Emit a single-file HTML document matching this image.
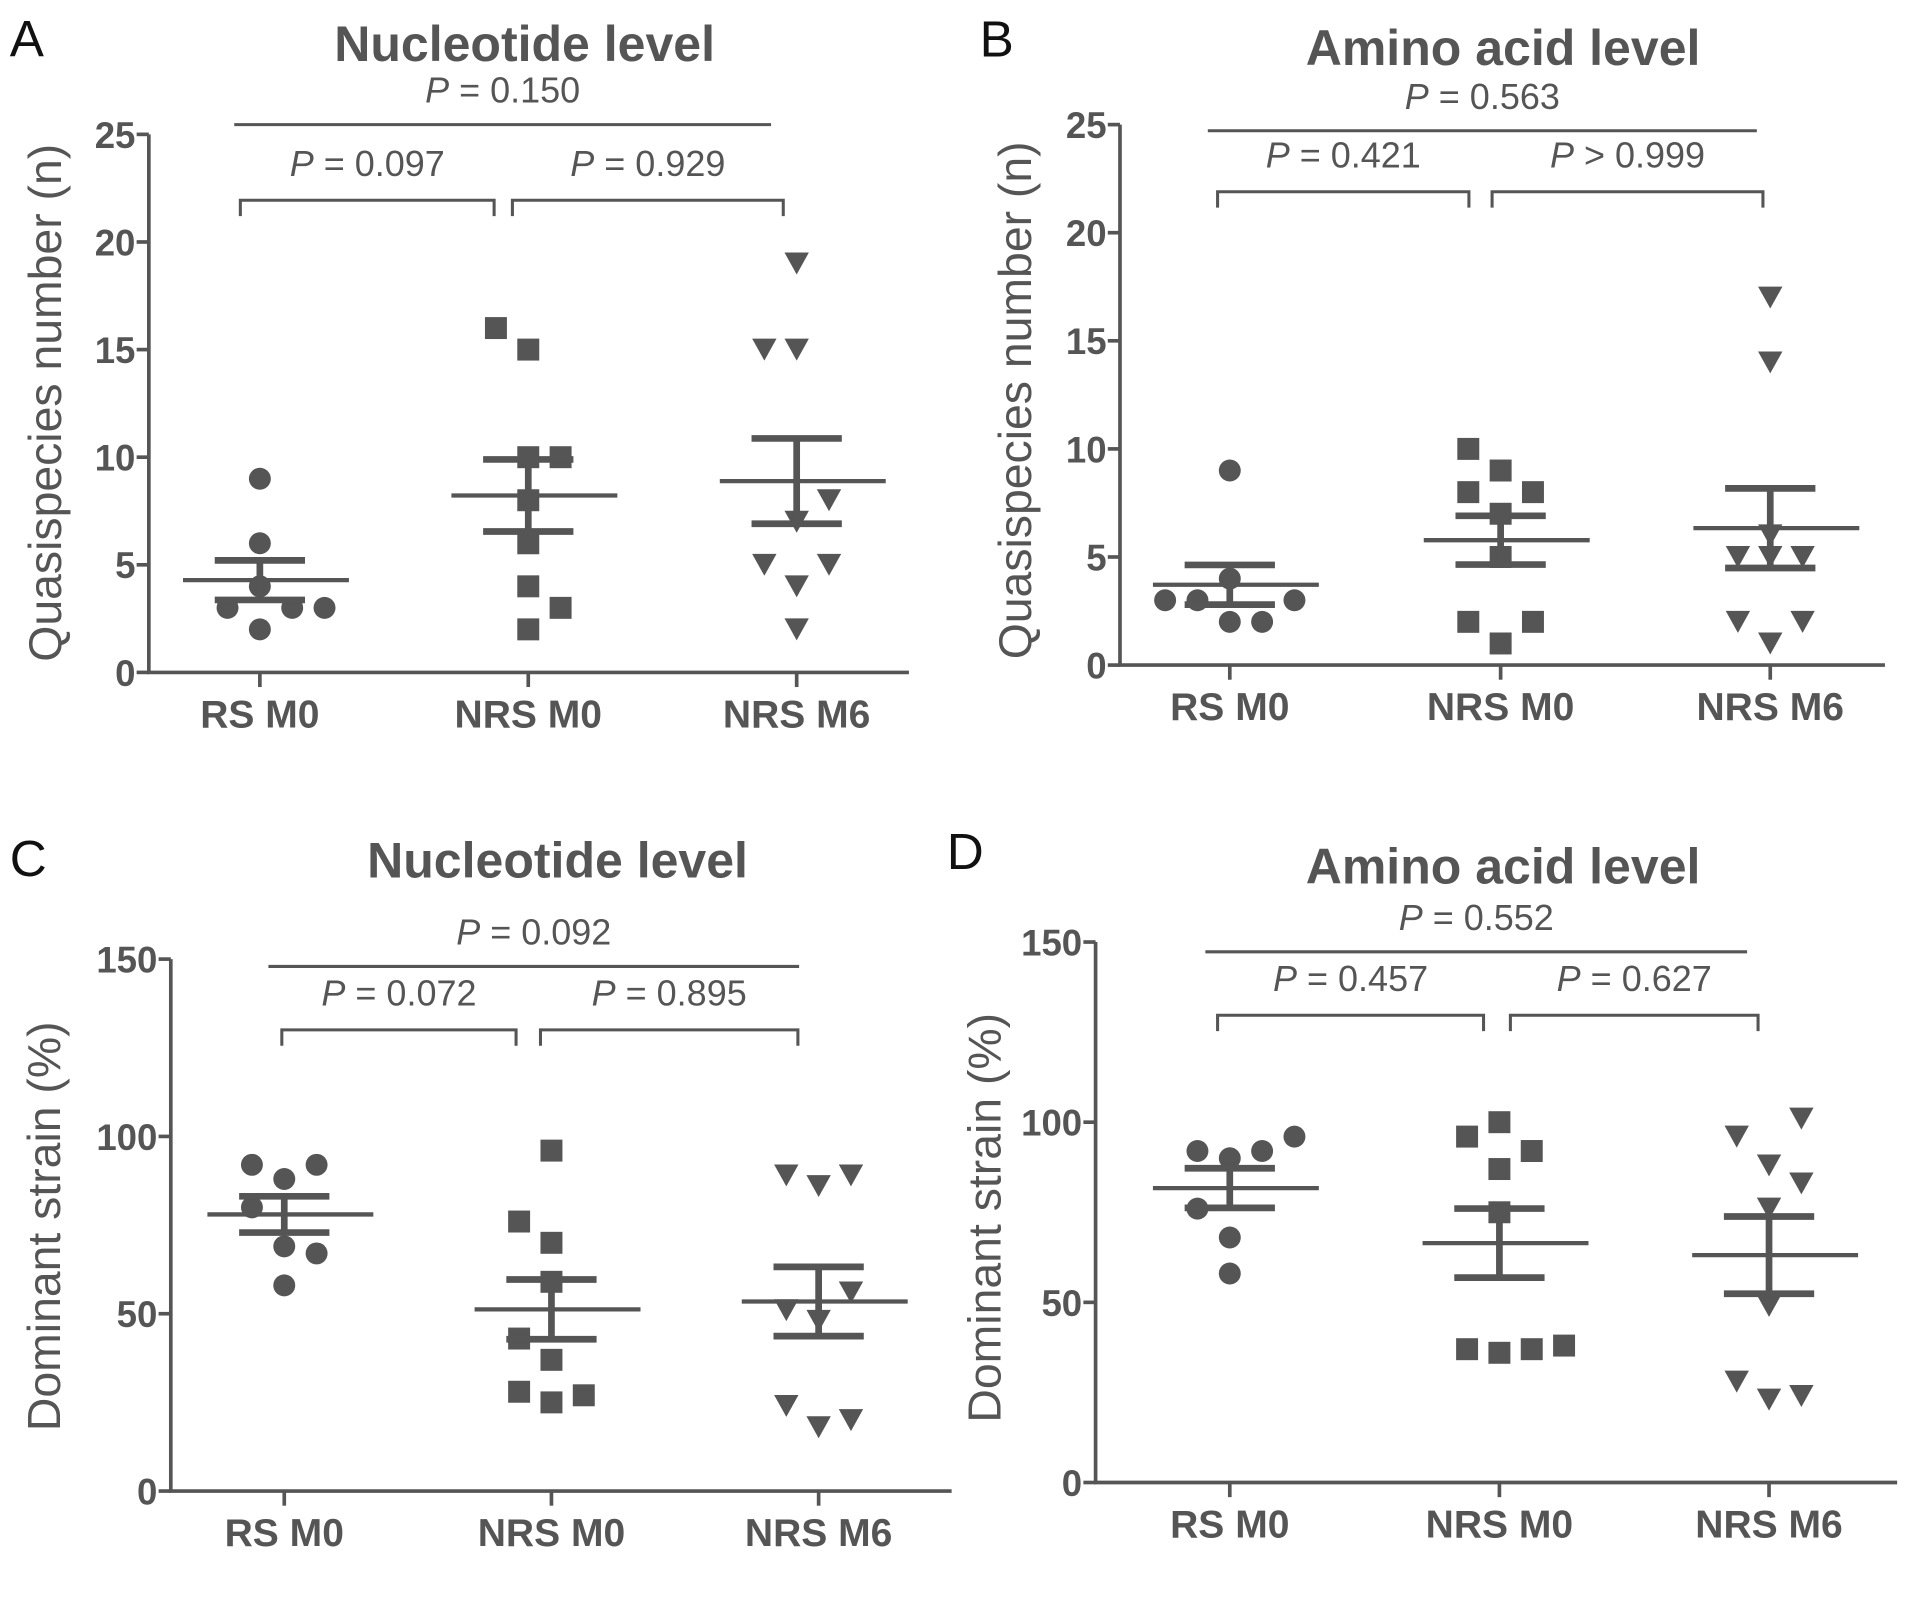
<!DOCTYPE html>
<html><head><meta charset="utf-8"><style>
html,body{margin:0;padding:0;background:#fff;}
svg{display:block;font-family:"Liberation Sans",sans-serif;}
</style></head><body>
<svg id="fig" width="1913" height="1612" viewBox="0 0 1568 1321" xmlns="http://www.w3.org/2000/svg"></svg>
<script>
const categories = ["RS M0","NRS M0","NRS M6"];
// Panel A: quasispecies number, nucleotide
const aRS = [9,6,4,3,3,3,2];
const aNRS0 = [16,15,10,10,8,6,4,3,2];
const aNRS6 = [19,15,15,8,7,5,5,4,2];
// Panel B: quasispecies number, amino acid
const bRS = [9,4,3,3,3,2,2];
const bNRS0 = [10,9,8,8,7,5,2,2,1];
const bNRS6 = [17,14,6,5,5,5,2,2,1];
// Panel C: dominant strain, nucleotide
const cRS = [92,92,88,80,69,67,58];
const cNRS0 = [96,76,70,59,43,37,28,25,27];
const cNRS6 = [89,86,89,56,51,48,24,18,20];
// Panel D: dominant strain, amino acid
const dRS = [92,90,92,96,76,68,58];
const dNRS0 = [100,96,92,87,75,37,36,37,38];
const dNRS6 = [101,96,88,83,76,49,28,23,24];
// jitter slots (multiples of spacing)
const jRS_A = [0,0,0,-1,1,2,0];
const jN0_A = [-1,0,0,1,0,0,0,1,0];
const jN6_A = [0,-1,0,1,0,-1,1,0,0];
const jRS_B = [0,0,-2,-1,2,0,1];
const jN0_B = [-1,0,-1,1,0,0,-1,1,0];
const jN6_B = [0,0,0,-1,1,0,-1,1,0];
const jRS_C = [-1,1,0,-1,0,1,0];
const jN0_C = [0,-1,0,0,-1,0,-1,0,1];
const jN6_C = [-1,0,1,1,-1,0,-1,0,1];
const jRS_D = [-1,0,1,2,-1,0,0];
const jN0_D = [0,-1,1,0,0,-1,0,1,2];
const jN6_D = [1,-1,0,1,0,0,-1,0,1];
const ticksA = [0,5,10,15,20,25];
const ticksC = [0,50,100,150];

const svg = document.getElementById('fig');
const NS = 'http://www.w3.org/2000/svg';
const GRAY = '#555';
function el(tag, attrs, parent){
  const e = document.createElementNS(NS, tag);
  for (const k in attrs) e.setAttribute(k, attrs[k]);
  (parent||svg).appendChild(e);
  return e;
}
function txt(str, x, y, size, opts, parent){
  const t = el('text', {x:x, y:y, 'font-size':size, fill:opts.fill||GRAY, 'text-anchor':opts.anchor||'middle', 'font-weight':opts.weight||'normal'}, parent);
  if (opts.rot) t.setAttribute('transform', 'rotate(-90 '+x+' '+y+')');
  t.textContent = str;
  return t;
}
function pText(str, x, y, parent){
  const t = el('text', {x:x, y:y, 'font-size':29.5, fill:GRAY, 'text-anchor':'middle'}, parent);
  const i = el('tspan', {'font-style':'italic'}, t); i.textContent = 'P';
  const r = el('tspan', {}, t); r.textContent = str;
  return t;
}
function panel(cfg){
  const g = el('g', {});
  
  
  const ys = v => cfg.y0 - (v - 0) / cfg.ymax * (cfg.y0 - cfg.yTop);
  const lt = txt(cfg.letter, cfg.letterX, cfg.letterY, 42, {fill:'#111', anchor:'start'}, g);
   
  const tt = txt(cfg.title, cfg.titleX, cfg.titleY, 41, {weight:'bold'}, g);
   
  const ax = el('path', {d:'M'+cfg.ax+' '+cfg.yTop+' V'+cfg.y0+' H'+cfg.xEnd, stroke:GRAY, 'stroke-width':3, fill:'none'}, g);
   
  cfg.ticks.forEach(v => {
    const y = ys(v);
    el('line', {x1:cfg.ax-10, x2:cfg.ax, y1:y, y2:y, stroke:GRAY, 'stroke-width':3}, g);
    const l = txt(String(v), cfg.ax-11, y+11, 30, {anchor:'end', weight:'bold'}, g);
     
  });
  const yl = txt(cfg.ylabel, cfg.ylx, cfg.yly, 38, {rot:true}, g);
   
  categories.forEach((c, i) => {
    const x = cfg.cx[i];
    el('line', {x1:x, x2:x, y1:cfg.y0, y2:cfg.y0+12, stroke:GRAY, 'stroke-width':3}, g);
    const l = txt(c, x, cfg.y0+45, 32, {weight:'bold'}, g);
     
  });
  cfg.series.forEach((vals, i) => {
    const x0 = cfg.cx[i];
    const sg = el('g', {fill:GRAY}, g);
    
    
    vals.forEach((v, k) => {
      const x = x0 + cfg.jit[i][k]*26.5, y = ys(v);
      let m;
      if (i === 0) m = el('circle', {cx:x, cy:y, r:9}, sg);
      else if (i === 1) m = el('rect', {x:x-9, y:y-9, width:18, height:18}, sg);
      else m = el('polygon', {points:(x-10)+','+(y-9)+' '+(x+10)+','+(y-9)+' '+x+','+(y+9)}, sg);
      
      
    });
    const n = vals.length;
    const mean = vals.reduce((a,b)=>a+b,0)/n;
    const sd = Math.sqrt(vals.reduce((a,b)=>a+(b-mean)*(b-mean),0)/(n-1));
    const sem = sd/Math.sqrt(n);
    const ml = el('line', {x1:x0-63, x2:x0+73, y1:ys(mean), y2:ys(mean), stroke:GRAY, 'stroke-width':3.5}, g);
     
    const eb = el('path', {d:'M'+x0+' '+ys(mean+sem)+' V'+ys(mean-sem)+' M'+(x0-37)+' '+ys(mean+sem)+' H'+(x0+37)+' M'+(x0-37)+' '+ys(mean-sem)+' H'+(x0+37), stroke:GRAY, 'stroke-width':5.5, fill:'none'}, g);
     
  });
  const b = cfg.br;
  const top = el('line', {x1:b.topL, x2:b.topR, y1:b.topY, y2:b.topY, stroke:GRAY, 'stroke-width':2.5}, g);
   
  const p0 = pText(b.p[0], (b.topL+b.topR)/2, b.topY-18, g);
   
  [[b.l1,b.r1,b.p[1]],[b.l2,b.r2,b.p[2]]].forEach((s, k) => {
    const br = el('path', {d:'M'+s[0]+' '+(b.y+13)+' V'+b.y+' H'+s[1]+' V'+(b.y+13), stroke:GRAY, 'stroke-width':2.5, fill:'none'}, g);
     
    const p = pText(s[2], (s[0]+s[1])/2, b.y-20, g);
     
  });
}
panel({name:'panel-a', letter:'A', letterX:8, letterY:46, title:'Nucleotide level', titleX:430, titleY:50,
  ax:122, xEnd:745, y0:551, yTop:110, ymax:25, ticks:ticksA, ylabel:'Quasispecies number (n)', ylx:50, yly:330,
  cx:[213,433,653], series:[aRS,aNRS0,aNRS6], jit:[jRS_A,jN0_A,jN6_A],
  br:{topL:192, topR:632, topY:102, y:164, l1:197, r1:405, l2:420, r2:642, p:[' = 0.150',' = 0.097',' = 0.929']}});
panel({name:'panel-b', letter:'B', letterX:803, letterY:46, title:'Amino acid level', titleX:1232, titleY:53,
  ax:918, xEnd:1545, y0:545, yTop:102, ymax:25, ticks:ticksA, ylabel:'Quasispecies number (n)', ylx:845, yly:328,
  cx:[1008,1230,1451], series:[bRS,bNRS0,bNRS6], jit:[jRS_B,jN0_B,jN6_B],
  br:{topL:990, topR:1440, topY:107, y:157, l1:998, r1:1204, l2:1223, r2:1445, p:[' = 0.563',' = 0.421',' > 0.999']}});
panel({name:'panel-c', letter:'C', letterX:8, letterY:718, title:'Nucleotide level', titleX:457, titleY:719,
  ax:140, xEnd:780, y0:1222, yTop:786, ymax:150, ticks:ticksC, ylabel:'Dominant strain (%)', ylx:49, yly:1005,
  cx:[233,452,671], series:[cRS,cNRS0,cNRS6], jit:[jRS_C,jN0_C,jN6_C],
  br:{topL:220, topR:655, topY:792, y:844, l1:231, r1:423, l2:443, r2:654, p:['  = 0.092',' = 0.072',' = 0.895']}});
panel({name:'panel-d', letter:'D', letterX:776, letterY:712, title:'Amino acid level', titleX:1232, titleY:724,
  ax:898, xEnd:1555, y0:1215, yTop:772, ymax:150, ticks:ticksC, ylabel:'Dominant strain (%)', ylx:820, yly:998,
  cx:[1008,1229,1450], series:[dRS,dNRS0,dNRS6], jit:[jRS_D,jN0_D,jN6_D],
  br:{topL:988, topR:1432, topY:780, y:832, l1:998, r1:1216, l2:1238, r2:1441, p:[' = 0.552',' = 0.457',' = 0.627']}});
</script>
</body></html>
